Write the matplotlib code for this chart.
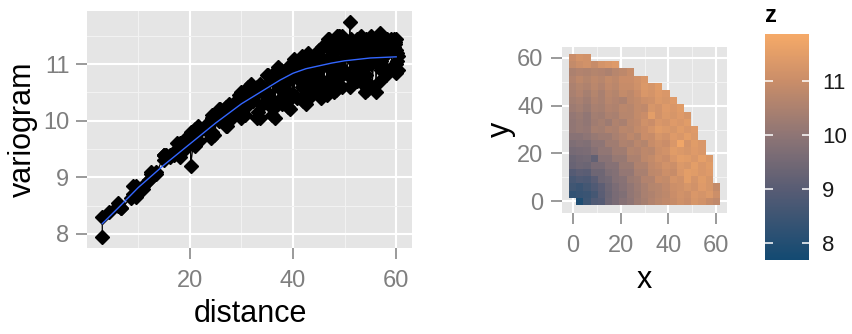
import numpy as np
import matplotlib
matplotlib.use('Agg')
import matplotlib.pyplot as plt
from matplotlib.colors import LinearSegmentedColormap, Normalize

plt.rcParams['font.family'] = ['Liberation Sans', 'DejaVu Sans']

# grid positions, same along x and y
grid = [0, 3, 6, 9, 12, 15, 18, 21, 24, 27, 30, 33, 36, 39, 42, 45, 48, 51, 54, 57, 60]

# z for each row y = grid[j], starting at x = 0 (origin has no value)
z_rows = [
    [np.nan, 7.94, 8.5, 8.85, 8.95, 9.4, 9.6, 9.85, 10.0, 10.25, 10.4, 10.6, 10.75, 10.85, 10.95, 11.1, 11.0, 11.25, 11.15, 10.95, 10.85],
    [8.3, 8.38, 8.45, 8.65, 9.05, 9.35, 9.6, 9.75, 10.05, 10.2, 10.45, 10.55, 10.7, 10.8, 11.0, 11.15, 11.05, 11.3, 11.2, 11.35, 11.05],
    [8.55, 8.45, 8.63, 8.85, 9.1, 9.4, 9.65, 9.85, 10.05, 10.25, 10.45, 10.65, 10.7, 10.85, 11.05, 11.1, 11.25, 11.15, 11.4, 11.25, 10.9],
    [8.7, 8.85, 8.8, 9.05, 9.4, 9.5, 9.8, 9.9, 10.2, 10.3, 10.6, 10.6, 10.95, 10.9, 11.2, 11.1, 11.5, 11.2, 11.45, 11.25],
    [8.95, 9.1, 9.05, 9.4, 9.4, 9.7, 9.8, 10.1, 10.1, 10.45, 10.45, 10.8, 10.85, 11.05, 10.95, 11.3, 11.5, 11.45, 11.3, 11.4],
    [9.3, 9.4, 9.35, 9.6, 9.6, 9.85, 9.85, 10.2, 10.2, 10.55, 10.55, 10.85, 10.95, 11.15, 11.05, 11.35, 11.25, 11.5, 11.3, 11.45],
    [9.35, 9.45, 9.5, 9.2, 9.9, 9.9, 10.15, 10.15, 10.5, 10.5, 10.8, 10.9, 11.1, 11.0, 11.3, 11.5, 11.45, 11.3, 11.55, 11.35],
    [9.55, 9.6, 9.65, 9.85, 10.05, 10.05, 10.3, 10.3, 10.65, 10.6, 10.8, 10.75, 11.05, 11.15, 11.45, 11.35, 11.25, 11.4, 11.3],
    [9.7, 9.8, 9.75, 10.0, 10.0, 10.3, 10.3, 10.55, 10.5, 10.75, 10.65, 10.95, 11.1, 11.0, 11.3, 11.75, 11.2, 11.45, 11.3],
    [9.9, 9.9, 10.0, 10.15, 10.25, 10.25, 10.45, 10.6, 10.8, 10.65, 11.0, 10.95, 11.25, 11.15, 11.4, 11.3, 11.5, 11.35],
    [10.05, 10.15, 10.1, 10.4, 10.35, 10.55, 10.5, 10.75, 10.7, 10.9, 11.0, 11.2, 11.45, 11.35, 11.25, 11.45, 11.3, 11.4],
    [10.05, 10.15, 10.05, 10.3, 10.4, 10.25, 10.55, 10.45, 10.75, 10.85, 11.1, 11.0, 11.3, 11.2, 11.4, 11.3, 11.45],
    [10.1, 10.2, 10.05, 10.35, 10.3, 10.5, 10.45, 10.7, 10.7, 10.9, 11.0, 11.5, 11.15, 11.35, 11.25, 11.4, 11.25],
    [10.25, 10.35, 10.2, 10.45, 10.4, 10.6, 10.55, 10.75, 10.7, 10.9, 10.85, 11.25, 11.15, 11.4, 11.3, 11.45],
    [10.35, 10.45, 10.3, 10.55, 10.45, 10.7, 10.6, 10.5, 10.8, 10.9, 11.05, 11.1, 11.35, 11.25, 11.4],
    [10.45, 10.6, 10.4, 10.65, 10.45, 10.75, 10.65, 10.9, 10.8, 11.0, 11.3, 11.2, 11.4, 11.3],
    [10.5, 10.65, 10.55, 10.75, 10.6, 10.85, 10.75, 10.95, 10.95, 11.1, 11.35, 11.25, 11.45],
    [10.6, 10.8, 10.65, 10.8, 10.7, 10.9, 10.8, 11.0, 11.0, 11.15, 11.3],
    [10.5, 10.6, 10.55, 10.65, 10.6, 10.5, 10.7, 10.8, 10.95],
    [10.9, 11.05, 11.15, 10.95, 11.2, 11.3, 11.4],
    [11.0, 11.2, 11.15],
]

# smooth fit over the variogram cloud
fit_dist = [3, 6, 10, 15, 20, 25, 30, 35, 37.5, 40, 42.5, 45, 47.5, 50, 55, 60]
fit_vario = [8.18, 8.45, 8.82, 9.22, 9.59, 9.96, 10.3, 10.58, 10.72, 10.84, 10.92, 10.97, 11.02, 11.06, 11.11, 11.13]

grid = np.array(grid, dtype=float)
Z = np.full((len(grid), len(grid)), np.nan)
for j, row in enumerate(z_rows):
    Z[j, :len(row)] = row

# variogram cloud: distance of every cell from the origin
jj, ii = np.nonzero(~np.isnan(Z))
dist = np.hypot(grid[ii], grid[jj])
vario = Z[jj, ii]
order = np.argsort(dist, kind='stable')
dist, vario = dist[order], vario[order]

W, H = 853, 334
fig = plt.figure(figsize=(W / 100, H / 100), dpi=100)

bg = '#E5E5E5'
tick_col = '#7F7F7F'


def gg_axes(ax, xmaj, xmin_, ymaj, ymin_):
    ax.set_facecolor(bg)
    for s in ax.spines.values():
        s.set_visible(False)
    ax.set_xticks(xmaj)
    ax.set_xticks(xmin_, minor=True)
    ax.set_yticks(ymaj)
    ax.set_yticks(ymin_, minor=True)
    ax.grid(which='major', color='white', lw=1.5)
    ax.grid(which='minor', color='#F2F2F2', lw=0.8)
    ax.set_axisbelow(True)
    ax.tick_params(which='major', length=8, width=1.1, color=tick_col,
                   labelcolor=tick_col, labelsize=17)
    ax.tick_params(axis='x', which='major', pad=8)
    ax.tick_params(axis='y', which='major', pad=5)
    ax.tick_params(which='minor', length=0)


def expand(lo, hi, f=0.05):
    r = hi - lo
    return lo - f * r, hi + f * r


# left: variogram cloud
ax1 = fig.add_axes([87.5 / W, 1 - 248 / H, 325 / W, 237 / H])
ax1.plot(dist, vario, color='black', lw=0.9, zorder=2)
ax1.plot(dist, vario, 'D', color='black', ms=7, zorder=3)
ax1.plot(fit_dist, fit_vario, color='#3366FF', lw=1.0, zorder=4)
ax1.set_xlim(*expand(dist.min(), dist.max()))
ax1.set_ylim(*expand(vario.min(), vario.max()))
gg_axes(ax1, [20, 40, 60], [10, 30, 50], [8, 9, 10, 11], [8.5, 9.5, 10.5, 11.5])
ax1.set_xlabel('distance', fontsize=22, labelpad=5)
ax1.set_ylabel('variogram', fontsize=22, labelpad=4)

# right: variogram map
cmap = LinearSegmentedColormap.from_list('bo', [
    (0.0, '#134A72'), (0.311, '#585C74'), (0.55, '#8E7575'),
    (0.789, '#C98D69'), (1.0, '#F6AA68')])
norm = Normalize(7.7, 11.88)

step = grid[1] - grid[0]
edges = np.concatenate([grid - step / 2, [grid[-1] + step / 2]])
ax2 = fig.add_axes([561.5 / W, 1 - 212.5 / H, 166 / W, 166 / H])
mesh = ax2.pcolormesh(edges, edges, np.ma.masked_invalid(Z), cmap=cmap, norm=norm,
                      shading='flat', zorder=2)
ax2.set_xlim(*expand(edges[0], edges[-1]))
ax2.set_ylim(*expand(edges[0], edges[-1]))
gg_axes(ax2, [0, 20, 40, 60], [10, 30, 50], [0, 20, 40, 60], [10, 30, 50])
ax2.set_xlabel('x', fontsize=22, labelpad=6)
ax2.set_ylabel('y', fontsize=22, labelpad=1)

# colour bar
cax = fig.add_axes([765 / W, 1 - 259.5 / H, 44.5 / W, 226 / H])
cb = fig.colorbar(mesh, cax=cax)
cb.outline.set_visible(False)
cb.set_ticks([8, 9, 10, 11])
cax.tick_params(length=0, labelsize=16, labelcolor='#1A1A1A', pad=9)
cax.hlines([8, 9, 10, 11], 0, 0.17, color='white', lw=1.1,
           transform=cax.get_yaxis_transform())
cax.hlines([8, 9, 10, 11], 0.83, 1, color='white', lw=1.1,
           transform=cax.get_yaxis_transform())
fig.text(765 / W, 1 - 22 / H, 'z', fontsize=17, fontweight='bold', va='baseline')

fig.savefig('out.png', dpi=100)
